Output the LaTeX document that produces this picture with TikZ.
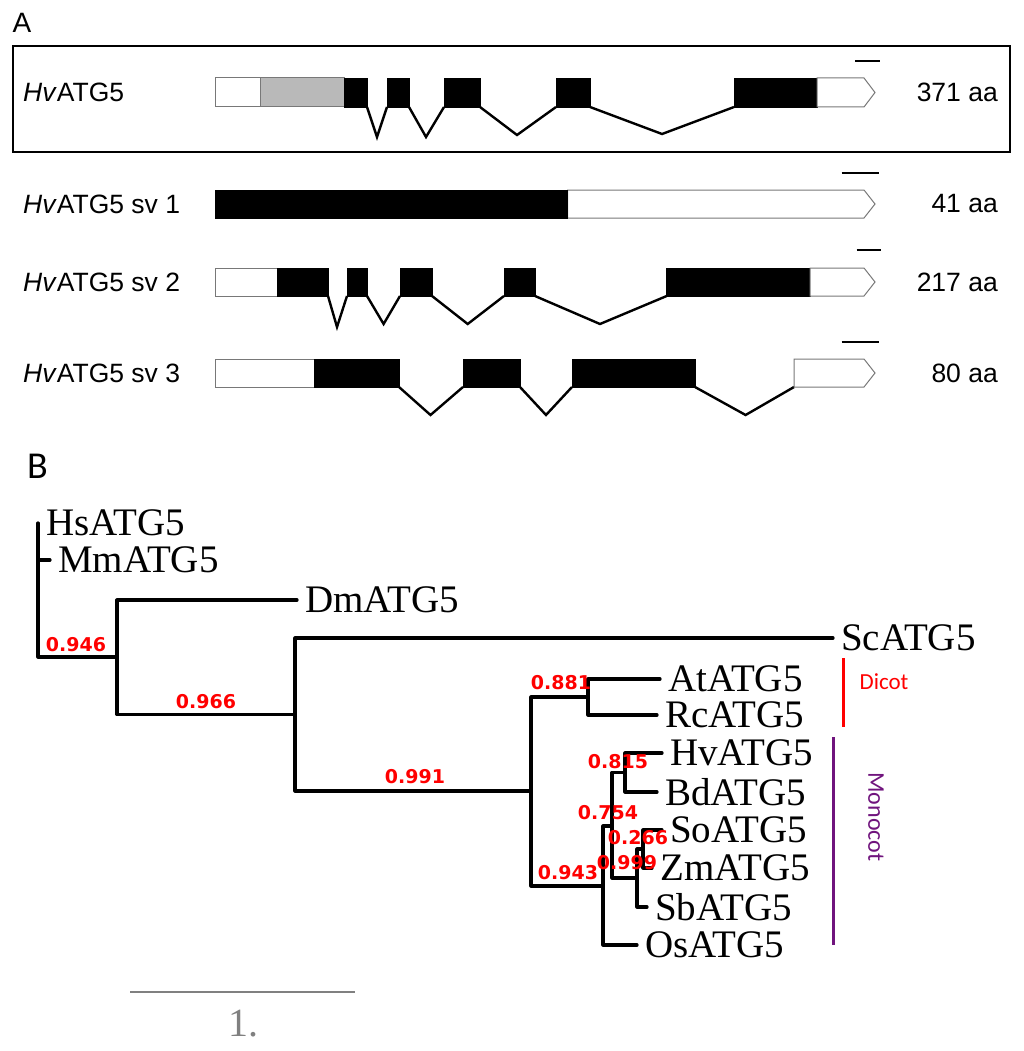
\documentclass[tikz,border=0pt]{standalone}
\usepackage{fontspec}
\setmainfont{Liberation Serif}
\newfontfamily\arialf{Liberation Sans}
\newfontfamily\calf{Carlito}
\newfontfamily\dejaf{DejaVu Sans}
\definecolor{monopurple}{RGB}{112,20,125}
\definecolor{utrline}{RGB}{120,120,120}
\definecolor{greyfill}{RGB}{185,185,185}
\begin{document}
\begin{tikzpicture}[x=1pt,y=-1pt,
  utr/.style={fill=white,draw=utrline,line width=1pt},
  grey/.style={fill=greyfill,draw=utrline,line width=1pt},
  exon/.style={fill=black,draw=black,line width=0.5pt},
  intron/.style={draw=black,line width=2.4pt,line join=miter},
  sbar/.style={draw=black,line width=2.8pt},
  glabel/.style={font=\arialf\fontsize{26.5}{30}\selectfont,anchor=west,inner sep=0pt},
  alabel/.style={font=\arialf\fontsize{26.5}{30}\selectfont,anchor=east,inner sep=0pt},
  br/.style={draw=black,line width=3.2pt,line cap=round,line join=round},
  leaf/.style={anchor=west,inner xsep=8pt,inner ysep=0pt,font=\fontsize{39}{40}\selectfont},
  bs/.style={text=red,font=\dejaf\bfseries\fontsize{19}{21}\selectfont,inner sep=0pt}
]
\useasboundingbox (0,0) rectangle (1024,1051);

% ---------------- Panel A ----------------
\node[font=\arialf\fontsize{28}{30}\selectfont,inner sep=0pt] (lblA) at (22,22.5) {A};
\draw[line width=2pt] (13,46) rectangle (1010,152);

% HvATG5
\node[glabel] (g0) at (23,92.5) {\textit{Hv}ATG5};
\node[alabel] (a0) at (998,92.5) {371 aa};
\draw[sbar] (855,61) -- (880,61);
\draw[utr] (215,78) rectangle (260,107);
\draw[grey] (260,78) rectangle (344,107);
\draw[exon] (344,78) rectangle (367,107);
\draw[intron] (367,107) -- (377,137) -- (387,107);
\draw[exon] (387,78) rectangle (409,107);
\draw[intron] (409,107) -- (426,137) -- (444,107);
\draw[exon] (444,78) rectangle (480,107);
\draw[intron] (480,107) -- (517,135) -- (556,107);
\draw[exon] (556,78) rectangle (590,107);
\draw[intron] (590,107) -- (662,134) -- (734,107);
\draw[exon] (734,78) rectangle (817,107);
\draw[utr] (817,78) -- (864,78) -- (875,92.5) -- (864,107) -- (817,107) -- cycle;

% sv 1
\node[glabel] (g1) at (23,204) {\textit{Hv}ATG5 sv 1};
\node[alabel] (a1) at (998,204) {41 aa};
\draw[sbar] (841.5,173) -- (879,173);
\draw[utr] (567.5,190) -- (864,190) -- (875,204) -- (864,218) -- (567.5,218) -- cycle;
\draw[exon] (215,190) rectangle (567.5,218);

% sv 2
\node[glabel] (g2) at (23,282) {\textit{Hv}ATG5 sv 2};
\node[alabel] (a2) at (998,282) {217 aa};
\draw[sbar] (856.5,250) -- (880.5,250);
\draw[utr] (215,268) rectangle (277,296);
\draw[exon] (277,268) rectangle (328,296);
\draw[intron] (328,296) -- (337,327) -- (347,296);
\draw[exon] (347,268) rectangle (367,296);
\draw[intron] (367,296) -- (383.6,324) -- (400,296);
\draw[exon] (400,268) rectangle (432,296);
\draw[intron] (432,296) -- (467.7,324) -- (504,296);
\draw[exon] (504,268) rectangle (535,296);
\draw[intron] (535,296) -- (600,324) -- (666.7,296);
\draw[exon] (666.7,268) rectangle (810,296);
\draw[utr] (810,268) -- (864,268) -- (875,282) -- (864,296) -- (810,296) -- cycle;

% sv 3
\node[glabel] (g3) at (23,373) {\textit{Hv}ATG5 sv 3};
\node[alabel] (a3) at (998,373) {80 aa};
\draw[sbar] (841.5,342) -- (879,342);
\draw[utr] (215,359) rectangle (314,387);
\draw[exon] (314,359) rectangle (399,387);
\draw[intron] (399,387) -- (430.5,415) -- (463,387);
\draw[exon] (463,359) rectangle (520,387);
\draw[intron] (520,387) -- (546,415) -- (572,387);
\draw[exon] (572,359) rectangle (695,387);
\draw[intron] (695,387) -- (745.6,415) -- (794,387);
\draw[utr] (794,359) -- (864,359) -- (875,373) -- (864,387) -- (794,387) -- cycle;

% ---------------- Panel B ----------------
\node[font=\calf\fontsize{38}{40}\selectfont,inner sep=0pt] (lblB) at (37.5,466) {B};

% leaves
\node[leaf] (Hs) at (38,523) {HsATG5};
\node[leaf] (Mm) at (50,560) {MmATG5};
\node[leaf] (Dm) at (297,600) {DmATG5};
\node[leaf] (Sc) at (833,638) {ScATG5};
\node[leaf] (At) at (660,679) {AtATG5};
\node[leaf] (Rc) at (657,715) {RcATG5};
\node[leaf] (Hv) at (662,753) {HvATG5};
\node[leaf] (Bd) at (657,792) {BdATG5};
\node[leaf] (So) at (662,830) {SoATG5};
\node[leaf] (Zm) at (652,868) {ZmATG5};
\node[leaf] (Sb) at (647,907) {SbATG5};
\node[leaf] (Os) at (637,945) {OsATG5};

% internal nodes
\coordinate (N1) at (117,657);
\coordinate (N2) at (295,714.5);
\coordinate (N3) at (531,791);
\coordinate (Nd) at (588,697);
\coordinate (Nm) at (603,886);
\coordinate (N5) at (612,826);
\coordinate (Nhb) at (625,772.5);
\coordinate (NA) at (637,878);
\coordinate (NB) at (643,849);

\draw[br] (Hs.west) |- (N1);
\draw[br] (Mm.west -| Hs.west) -- (Mm.west);
\draw[br] (Dm.west) -| (N1) |- (N2);
\draw[br] (Sc.west) -| (N2) |- (N3);
\draw[br] (Nd) -| (N3) |- (Nm);
\draw[br] (At.west) -| (Nd) |- (Rc.west);
\draw[br] (N5) -| (Nm) |- (Os.west);
\draw[br] (Nhb) -| (N5) |- (NA);
\draw[br] (Hv.west) -| (Nhb) |- (Bd.west);
\draw[br] (NB) -| (NA) |- (Sb.west);
\draw[br] (So.west) -| (NB) |- (Zm.west);

% support values
\node[bs] (b1) at (76,645) {0.946};
\node[bs] (b2) at (206,702) {0.966};
\node[bs] (b3) at (415,777) {0.991};
\node[bs] (b4) at (561,683) {0.881};
\node[bs] (b5) at (618,762) {0.815};
\node[bs] (b6) at (608,813) {0.754};
\node[bs] (b7) at (638,838) {0.266};
\node[bs] (b8) at (627,863) {0.999};
\node[bs] (b9) at (568,873) {0.943};

% clade bars
\draw[red,line width=3pt] (843,658) -- (843,727);
\node[text=red,font=\calf\fontsize{23}{25}\selectfont,inner sep=0pt] (dicot) at (884,682) {Dicot};
\draw[monopurple,line width=3pt] (833,737) -- (833,945);
\node[text=monopurple,font=\calf\fontsize{24}{26}\selectfont,inner sep=0pt,rotate=-90] (mono) at (876,817) {Monocot};

% scale bar
\draw[gray,line width=2.8pt] (130,992) -- (355,992);
\node[text=gray,font=\fontsize{40}{42}\selectfont,inner sep=0pt] (sc) at (243,1024) {1.};
\end{tikzpicture}
\end{document}
